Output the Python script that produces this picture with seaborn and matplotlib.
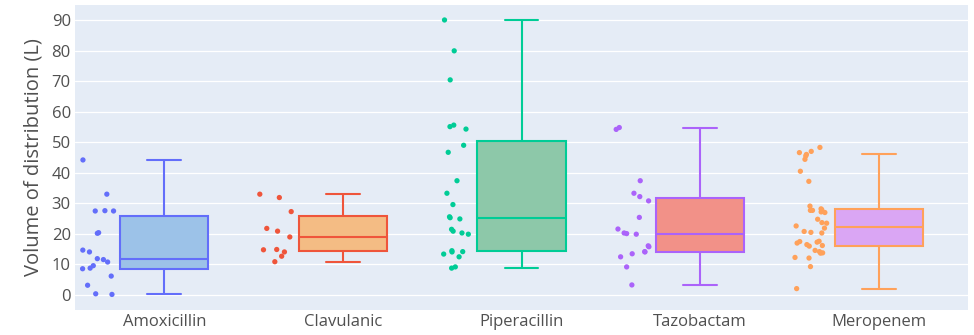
import numpy as np
import pandas as pd
import matplotlib
matplotlib.use("Agg")
import matplotlib.pyplot as plt
import seaborn as sns

# ---------------- data ----------------
drugs = ["Amoxicillin", "Clavulanic", "Piperacillin", "Tazobactam", "Meropenem"]

amoxicillin = [44.2, 33.0, 27.5, 27.6, 27.5, 20.4, 20.2, 14.7, 14.1, 11.9, 11.6,
               10.8, 9.6, 8.6, 8.8, 6.2, 3.2, 0.4, 0.2]
clavulanic = [33.0, 31.9, 27.3, 21.8, 20.9, 19.0, 14.8, 14.9, 14.1, 12.7, 10.9]
piperacillin = [90.0, 79.9, 70.4, 55.6, 55.1, 54.3, 49.0, 46.7, 37.4, 33.3, 29.6,
                25.6, 24.9, 25.3, 20.9, 20.3, 21.5, 19.9, 13.4, 14.2, 14.5, 14.1,
                12.5, 9.2, 8.8]
tazobactam = [54.2, 54.8, 37.4, 33.3, 32.2, 30.8, 25.4, 21.6, 20.1, 19.9, 20.3,
              15.8, 16.1, 14.1, 13.5, 14.2, 12.5, 9.2, 3.3]
meropenem = [48.3, 47.0, 46.6, 46.0, 45.5, 44.4, 40.5, 37.2,
             29.1, 28.2, 27.9, 27.7, 27.7, 27.2, 27.0, 24.8,
             23.7, 23.5, 22.6, 21.9, 20.8, 20.5, 20.3,
             17.6, 17.5, 17.3, 17.0, 16.5, 16.2, 16.0,
             14.6, 14.2, 13.8, 13.7, 12.3, 12.1, 9.3, 2.1]
series = [amoxicillin, clavulanic, piperacillin, tazobactam, meropenem]

line_colors = ["#636EFA", "#EF553B", "#00CC96", "#AB63FA", "#FFA15A"]
fill_colors = ["#9CC2E8", "#F4BC84", "#8DC8A9", "#F29188", "#DAA6F4"]

y_label = "Volume of distribution (L)"
y_ticks = list(range(0, 91, 10))


def plotly_box_stats(values):
    """Five-number summary computed the way Plotly's 'linear' quartile method does."""
    v = np.sort(np.asarray(values, dtype=float))
    n = len(v)

    def q(p):
        pos = min(max(n * p + 0.5, 1.0), float(n))
        lo = int(np.floor(pos))
        if lo >= n:
            return v[-1]
        return v[lo - 1] + (pos - lo) * (v[lo] - v[lo - 1])

    q1, q3 = q(0.25), q(0.75)
    med = float(np.median(v))
    iqr = q3 - q1
    lo_w = v[v >= q1 - 1.5 * iqr].min()
    hi_w = v[v <= q3 + 1.5 * iqr].max()
    return [lo_w, q1, med, q3, hi_w]


# ---------------- style ----------------
sns.set_theme(style="darkgrid", rc={
    "axes.facecolor": "#E5ECF6",
    "figure.facecolor": "white",
    "grid.color": "white",
    "grid.linewidth": 0.9,
})
plt.rcParams["font.family"] = ["Open Sans", "DejaVu Sans"]
text_color = "#505050"

fig = plt.figure(figsize=(9.74, 3.35), dpi=100)
ax = fig.add_axes([75 / 974, 25 / 335, 893 / 974, 305 / 335])

# ---------------- boxes ----------------
box_width = 0.493
cap_width = 0.19
for i, (vals, lc, fc) in enumerate(zip(series, line_colors, fill_colors)):
    stats = plotly_box_stats(vals)
    sns.boxplot(x=np.full(len(stats), float(i)), y=stats, orient="x",
                native_scale=True, width=box_width, color=fc, linecolor=lc,
                linewidth=1.5, saturation=1, whis=(0, 100), showfliers=False,
                ax=ax)

# make whisker caps narrower (Plotly style)
for cont in ax.containers:
    for cap in getattr(cont, "caps", []):
        xd = np.asarray(cap.get_xdata(), dtype=float)
        c = xd.mean()
        cap.set_xdata([c - cap_width / 2, c + cap_width / 2])

# ---------------- points (to the left of each box) ----------------
pts = pd.DataFrame({
    "drug": np.repeat(drugs, [len(s) for s in series]),
    "value": np.concatenate(series),
})
pts["pos"] = pts["drug"].map({d: i for i, d in enumerate(drugs)}) - 0.375
np.random.seed(7)
sns.stripplot(data=pts, x="pos", y="value", hue="drug", orient="x",
              palette=dict(zip(drugs, line_colors)), native_scale=True,
              jitter=0.095, size=3.8, linewidth=0, legend=False, zorder=3, ax=ax)

# ---------------- axes ----------------
ax.set_xlim(-0.5, 4.5)
ax.set_ylim(-4.9, 94.9)
ax.set_xticks(range(len(drugs)))
ax.set_xticklabels(drugs)
ax.set_yticks(y_ticks)
ax.grid(axis="x", visible=False)
ax.tick_params(axis="both", length=0, labelsize=12, colors=text_color)
ax.tick_params(axis="x", pad=3)
ax.tick_params(axis="y", pad=3)
ax.set_xlabel("")
ax.set_ylabel(y_label, fontsize=14.5, color=text_color, labelpad=6)
for s in ax.spines.values():
    s.set_visible(False)

fig.savefig("out.png", dpi=100)
